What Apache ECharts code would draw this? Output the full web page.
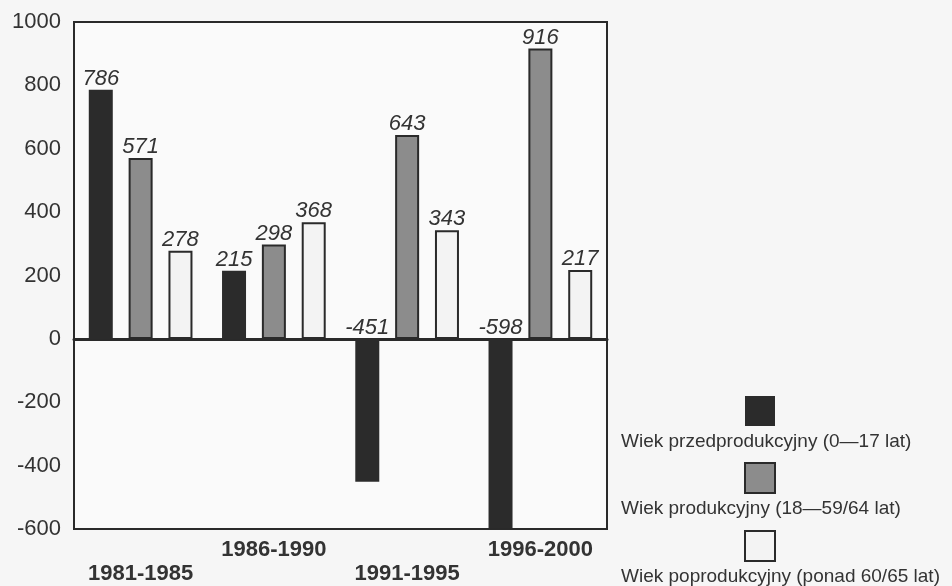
<!DOCTYPE html>
<html>
<head>
<meta charset="utf-8">
<script src="https://cdn.jsdelivr.net/npm/echarts@6/dist/echarts.min.js"></script>
<style>
html, body { margin: 0; padding: 0; background: #f6f6f6; }
#main { width: 952px; height: 586px; }
</style>
</head>
<body>
<div id="main"></div>
<script>
// okresy i grupy wieku
var periods = ['1981-1985', '1986-1990', '1991-1995', '1996-2000'];
var names = [
	'Wiek przedprodukcyjny (0\u201417 lat)',
	'Wiek produkcyjny (18\u201459/64 lat)',
	'Wiek poprodukcyjny (ponad 60/65 lat)'
];
var przed = [786, 215, -451, -598];
var prod = [571, 298, 643, 916];
var poprod = [278, 368, 343, 217];
var yMin = -600, yMax = 1000, yStep = 200;

var fills = ['#2b2b2b', '#8c8c8c', '#f3f3f3'];
var font = '"Liberation Sans", Arial, sans-serif';

function makeSeries( name, values, idx )
{
	return {
		name: name,
		type: 'bar',
		data: values,
		barWidth: 24,
		barGap: '66%',
		itemStyle: { color: fills[idx], borderColor: '#2a2a2a', borderWidth: idx === 0 ? 0 : 2 },
		label: {
			show: true,
			position: 'top',
			distance: 0,
			fontFamily: font,
			fontStyle: 'italic',
			fontSize: 22,
			color: '#333'
		}
	};
}

var chart = echarts.init(document.getElementById('main'));

var option = {
	backgroundColor: '#f6f6f6',
	animation: false,
	grid: {
		left: 74, right: 345, top: 22, bottom: 57,
		outerBoundsMode: 'none',
		containLabel: false,
		show: true, borderColor: '#2a2a2a', borderWidth: 2, backgroundColor: '#fafafa'
	},
	legend: [
		{
			data: names,
			orient: 'vertical',
			left: 744, top: 396,
			padding: 0,
			icon: 'rect',
			itemWidth: 30, itemHeight: 30, itemGap: 36,
			selectedMode: false,
			formatter: function () { return ''; }
		},
		{
			data: names,
			orient: 'vertical',
			left: 616, top: 432,
			padding: 0,
			height: 160,
			itemWidth: 0, itemHeight: 18, itemGap: 48.5,
			itemStyle: { opacity: 0, borderWidth: 0 },
			selectedMode: false,
			textStyle: { fontFamily: font, fontSize: 19, color: '#333', lineHeight: 18 }
		}
	],
	xAxis: [
		{
			type: 'category',
			data: periods,
			axisLine: { onZero: false, lineStyle: { color: '#2a2a2a', width: 2 } },
			axisTick: { show: false },
			axisLabel: {
				interval: 0,
				margin: 9,
				fontFamily: font,
				fontWeight: 'bold',
				fontSize: 22,
				color: '#333',
				lineHeight: 24,
				formatter: function ( v, i ) { return i % 2 === 0 ? '\n' + v : v; }
			}
		},
		{
			type: 'category',
			data: periods,
			position: 'bottom',
			axisLine: { onZero: true, lineStyle: { color: '#2a2a2a', width: 3 } },
			axisTick: { show: false },
			axisLabel: { show: false }
		}
	],
	yAxis: {
		type: 'value',
		min: yMin, max: yMax, interval: yStep,
		splitLine: { show: false },
		axisLine: { show: true, lineStyle: { color: '#2a2a2a', width: 2 } },
		axisTick: { show: false },
		axisLabel: {
			margin: 13, fontFamily: font, fontSize: 22, color: '#333',
			formatter: function ( v ) { return String( v ); }
		}
	},
	series: [
		makeSeries( names[0], przed, 0 ),
		makeSeries( names[1], prod, 1 ),
		makeSeries( names[2], poprod, 2 )
	]
};

chart.setOption( option );
</script>
</body>
</html>
